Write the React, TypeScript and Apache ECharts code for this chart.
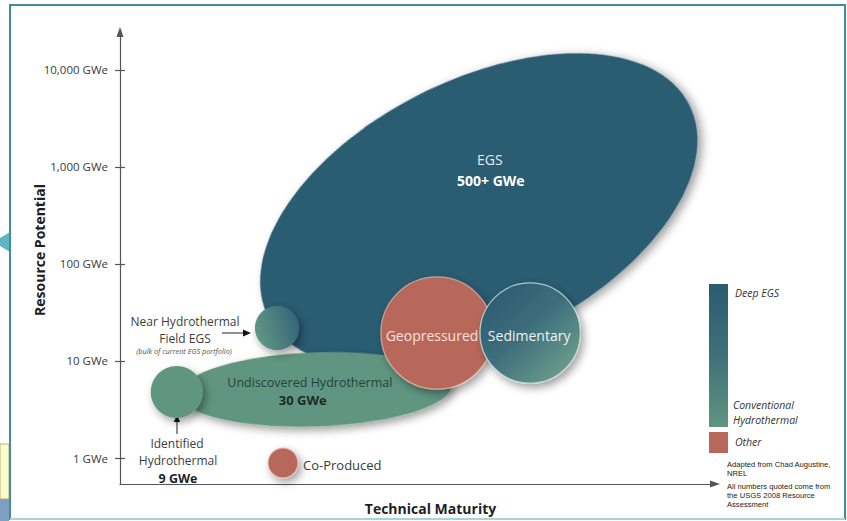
import React, { useEffect, useRef } from 'react';
import * as echarts from 'echarts';

// ---- data ----
const resourceNames = ['EGS', 'Undiscovered Hydrothermal', 'Identified Hydrothermal', 'Near Hydrothermal Field EGS', 'Geopressured', 'Sedimentary', 'Co-Produced'];
const technicalMaturity = [60.1, 32.8, 9.5, 26.3, 53.1, 68.7, 27.3];
const resourcePotentialGWe = [352, 5.1, 4.8, 21.9, 19.4, 19.4, 0.89];
const extentMajor = [39.5, 22.8, 4.35, 3.7, 9.4, 8.4, 2.5];
const extentMinor = [21.9, 6.2, 4.35, 3.7, 9.4, 8.4, 2.5];
const tiltDegrees = [26.7, 2, 0, 0, 0, 0, 0];
const resourceClass = ['deep', 'conventional', 'conventional', 'nearField', 'other', 'sedimentary', 'other'];
const innerLabels = [['EGS', '500+ GWe'], ['Undiscovered Hydrothermal', '30 GWe'], [], [], ['Geopressured'], ['Sedimentary'], ['Co-Produced']];

const potentialTicks = [1, 10, 100, 1000, 10000];
const legendLabels = ['Deep EGS', 'Conventional', 'Hydrothermal', 'Other'];
const sourceNotes = ['Adapted from Chad Augustine,', 'NREL', 'All numbers quoted come from', 'the USGS 2008 Resource', 'Assessment'];

// ---- layout / style (not data) ----
const FONT = 'Open Sans';
const labelLayout: Record<number, { dx: number; dy: number; color: string; size: number; bold?: boolean; align?: string }[]> = {
  0: [{ dx: 11, dy: -51, color: '#e6edf1', size: 14 }, { dx: 12, dy: -30, color: '#ffffff', size: 14, bold: true }],
  1: [{ dx: -6, dy: -7, color: '#23443a', size: 12.5 }, { dx: -13, dy: 11, color: '#1b2d27', size: 13, bold: true }],
  4: [{ dx: -5, dy: 2, color: '#f6e2da', size: 14 }],
  5: [{ dx: -1, dy: 2, color: '#eef4f2', size: 14 }],
  6: [{ dx: 20, dy: 2, color: '#3a3a3a', size: 13, align: 'left' }],
};

function fillFor(cls: string) {
  if (cls === 'deep') return '#2b5c72';
  if (cls === 'conventional') return '#5f9581';
  if (cls === 'other') return '#b8675a';
  if (cls === 'nearField')
    return new echarts.graphic.LinearGradient(0, 0.6, 1, 0.3, [
      { offset: 0, color: '#629784' },
      { offset: 1, color: '#33647a' },
    ]);
  return new echarts.graphic.LinearGradient(0.15, 0.1, 0.9, 0.9, [
    { offset: 0, color: '#2d5c73' },
    { offset: 0.45, color: '#3e6e7c' },
    { offset: 1, color: '#6e9f8c' },
  ]);
}

function strokeFor(cls: string) {
  if (cls === 'other') return 'rgba(235,190,175,0.7)';
  if (cls === 'sedimentary') return 'rgba(200,222,216,0.8)';
  return 'none';
}

export default function App() {
  const ref = useRef<HTMLDivElement>(null);
  useEffect(() => {
    if (!ref.current) return;
    const chart = echarts.init(ref.current, undefined, { renderer: 'svg' });
    const data = resourceNames.map((_, i) => [
      technicalMaturity[i],
      Math.log10(resourcePotentialGWe[i]),
      extentMajor[i],
      extentMinor[i],
      tiltDegrees[i],
    ]);
    const tickLogs = potentialTicks.map((v) => Math.log10(v));
    const axisColor = '#555';

    const option: any = {
      animation: false,
      backgroundColor: '#ffffff',
      grid: { left: 120, right: 130, top: 30, bottom: 37, containLabel: false },
      xAxis: {
        type: 'value',
        min: 0,
        max: 100,
        axisLine: { show: true, onZero: false, lineStyle: { color: axisColor, width: 1.2 }, symbol: ['none', 'triangle'], symbolSize: [7, 10], symbolOffset: [0, -2] },
        axisTick: { show: false },
        axisLabel: { show: false },
        splitLine: { show: false },
        name: 'Technical Maturity',
        nameLocation: 'middle',
        nameGap: 17,
        nameMoveOverlap: false,
        nameTextStyle: { fontFamily: FONT, fontSize: 14, fontWeight: 'bold', color: '#1f1f1f', padding: [0, 0, 0, 24] },
      },
      yAxis: [
        {
          type: 'value',
          min: -0.268,
          max: 4.412,
          axisLine: { show: true, onZero: false, lineStyle: { color: axisColor, width: 1.2 }, symbol: ['none', 'triangle'], symbolSize: [7, 10], symbolOffset: [0, -2] },
          axisTick: { show: true, inside: false, length: 5, customValues: tickLogs, lineStyle: { color: axisColor, width: 1.2 } },
          axisLabel: {
            show: true,
            customValues: tickLogs,
            margin: 12,
            fontFamily: FONT,
            fontSize: 11.5,
            color: '#3a3a3a',
            formatter: (v: number) => Math.round(Math.pow(10, v)).toLocaleString('en-US') + ' GWe',
          },
          splitLine: { show: false },
          name: 'Resource Potential',
          nameLocation: 'middle',
          nameRotate: 90,
          nameGap: 74,
          nameMoveOverlap: false,
          nameTextStyle: { fontFamily: FONT, fontSize: 14, fontWeight: 'bold', color: '#1f1f1f', padding: [0, 0, 0, 14] },
        },
        {
          type: 'value',
          min: -0.268,
          max: 4.412,
          position: 'left',
          axisLine: { show: false },
          axisTick: { show: true, inside: true, length: 5, customValues: tickLogs, lineStyle: { color: axisColor, width: 1.2 } },
          axisLabel: { show: false },
          splitLine: { show: false },
        },
      ],
      series: [
        {
          type: 'custom',
          silent: true,
          coordinateSystem: 'cartesian2d',
          xAxisIndex: 0,
          yAxisIndex: 0,
          encode: { x: 0, y: 1 },
          data,
          renderItem: (params: any, api: any) => {
            const i = params.dataIndex;
            const c = api.coord([api.value(0), api.value(1)]);
            const rx = api.size([api.value(2), 0])[0];
            const ry = api.size([api.value(3), 0])[0];
            const rot = (api.value(4) * Math.PI) / 180;
            const cls = resourceClass[i];
            const children: any[] = [
              {
                type: 'ellipse',
                x: c[0],
                y: c[1],
                rotation: rot,
                shape: { cx: 0, cy: 0, rx, ry },
                style: {
                  fill: fillFor(cls),
                  stroke: strokeFor(cls),
                  lineWidth: 1.3,
                  shadowBlur: cls === 'deep' ? 10 : 8,
                  shadowColor: 'rgba(0,0,0,0.38)',
                  shadowOffsetX: 3,
                  shadowOffsetY: 4,
                },
              },
            ];
            const lines = innerLabels[i];
            const lay = labelLayout[i] || [];
            lines.forEach((t, k) => {
              const L = lay[k];
              if (!L) return;
              children.push({
                type: 'text',
                x: c[0] + L.dx,
                y: c[1] + L.dy,
                style: {
                  text: t,
                  fill: L.color,
                  fontFamily: FONT,
                  fontSize: L.size,
                  fontWeight: L.bold ? 'bold' : 'normal',
                  align: L.align || 'center',
                  verticalAlign: 'middle',
                },
              });
            });
            return { type: 'group', children };
          },
        },
      ],
      graphic: [
        // page frame and slide remnants
        { type: 'rect', left: 0, top: 0, shape: { x: 0, y: 0, width: 10, height: 521 }, style: { fill: '#ffffff' }, silent: true },
        { type: 'polygon', shape: { points: [[0, 238], [10, 232], [10, 252], [0, 246]] }, style: { fill: '#5fb6c0' }, silent: true },
        { type: 'rect', shape: { x: 0, y: 444, width: 9, height: 55 }, style: { fill: '#fffbd0', stroke: '#b8b37a', lineWidth: 1 }, silent: true },
        { type: 'rect', shape: { x: 0, y: 499, width: 9, height: 22 }, style: { fill: '#7e9fc0' }, silent: true },
        { type: 'rect', shape: { x: 10, y: 5, width: 835, height: 514 }, style: { fill: 'none', stroke: '#3e8f99', lineWidth: 2 }, silent: true },
        { type: 'line', shape: { x1: 10, y1: 519, x2: 845, y2: 519 }, style: { stroke: '#a3d6d8', lineWidth: 2 }, silent: true },
        // annotations
        { type: 'text', x: 185, y: 321, style: { text: 'Near Hydrothermal', fill: '#3d3d3d', fontFamily: FONT, fontSize: 12, align: 'center', verticalAlign: 'middle' } },
        { type: 'text', x: 185, y: 338, style: { text: 'Field EGS', fill: '#3d3d3d', fontFamily: FONT, fontSize: 12, align: 'center', verticalAlign: 'middle' } },
        { type: 'text', x: 184, y: 351, style: { text: '(bulk of current EGS portfolio)', fill: '#555', fontFamily: FONT, fontSize: 7.3, fontStyle: 'italic', align: 'center', verticalAlign: 'middle' } },
        { type: 'line', shape: { x1: 222, y1: 333, x2: 245, y2: 333 }, style: { stroke: '#222', lineWidth: 1 } },
        { type: 'polygon', shape: { points: [[251, 333], [243, 329.5], [243, 336.5]] }, style: { fill: '#111' } },
        { type: 'text', x: 177, y: 443, style: { text: 'Identified', fill: '#3d3d3d', fontFamily: FONT, fontSize: 12, align: 'center', verticalAlign: 'middle' } },
        { type: 'text', x: 178, y: 460, style: { text: 'Hydrothermal', fill: '#3d3d3d', fontFamily: FONT, fontSize: 12, align: 'center', verticalAlign: 'middle' } },
        { type: 'text', x: 178, y: 478, style: { text: '9 GWe', fill: '#1f1f1f', fontFamily: FONT, fontSize: 12.5, fontWeight: 'bold', align: 'center', verticalAlign: 'middle' } },
        { type: 'line', shape: { x1: 177, y1: 434, x2: 177, y2: 421 }, style: { stroke: '#222', lineWidth: 1 } },
        { type: 'polygon', shape: { points: [[177, 415], [173.8, 422], [180.2, 422]] }, style: { fill: '#111' } },
        // legend
        {
          type: 'rect',
          shape: { x: 709, y: 284, width: 19, height: 143 },
          style: {
            fill: new echarts.graphic.LinearGradient(0, 0, 0, 1, [
              { offset: 0, color: '#2b5b72' },
              { offset: 0.5, color: '#3f7079' },
              { offset: 1, color: '#5f9581' },
            ]),
          },
        },
        { type: 'rect', shape: { x: 709, y: 432, width: 19, height: 21 }, style: { fill: '#b8675a' } },
        { type: 'text', x: 735, y: 293, style: { text: legendLabels[0], fill: '#333', fontFamily: FONT, fontSize: 10.5, fontStyle: 'italic', verticalAlign: 'middle' } },
        { type: 'text', x: 733, y: 405, style: { text: legendLabels[1], fill: '#333', fontFamily: FONT, fontSize: 10.5, fontStyle: 'italic', verticalAlign: 'middle' } },
        { type: 'text', x: 733, y: 420, style: { text: legendLabels[2], fill: '#333', fontFamily: FONT, fontSize: 10.5, fontStyle: 'italic', verticalAlign: 'middle' } },
        { type: 'text', x: 735, y: 442, style: { text: legendLabels[3], fill: '#333', fontFamily: FONT, fontSize: 10.5, fontStyle: 'italic', verticalAlign: 'middle' } },
        ...sourceNotes.map((t, k) => ({
          type: 'text',
          x: 727,
          y: [464, 473, 486, 495, 504][k],
          style: { text: t, fill: '#222', fontFamily: 'Liberation Sans', fontSize: 7.6, verticalAlign: 'middle' },
        })),
      ],
    };
    chart.setOption(option);
    return () => chart.dispose();
  }, []);
  return <div ref={ref} style={{ position: 'absolute', left: 0, top: 0, width: 847, height: 521 }} />;
}
